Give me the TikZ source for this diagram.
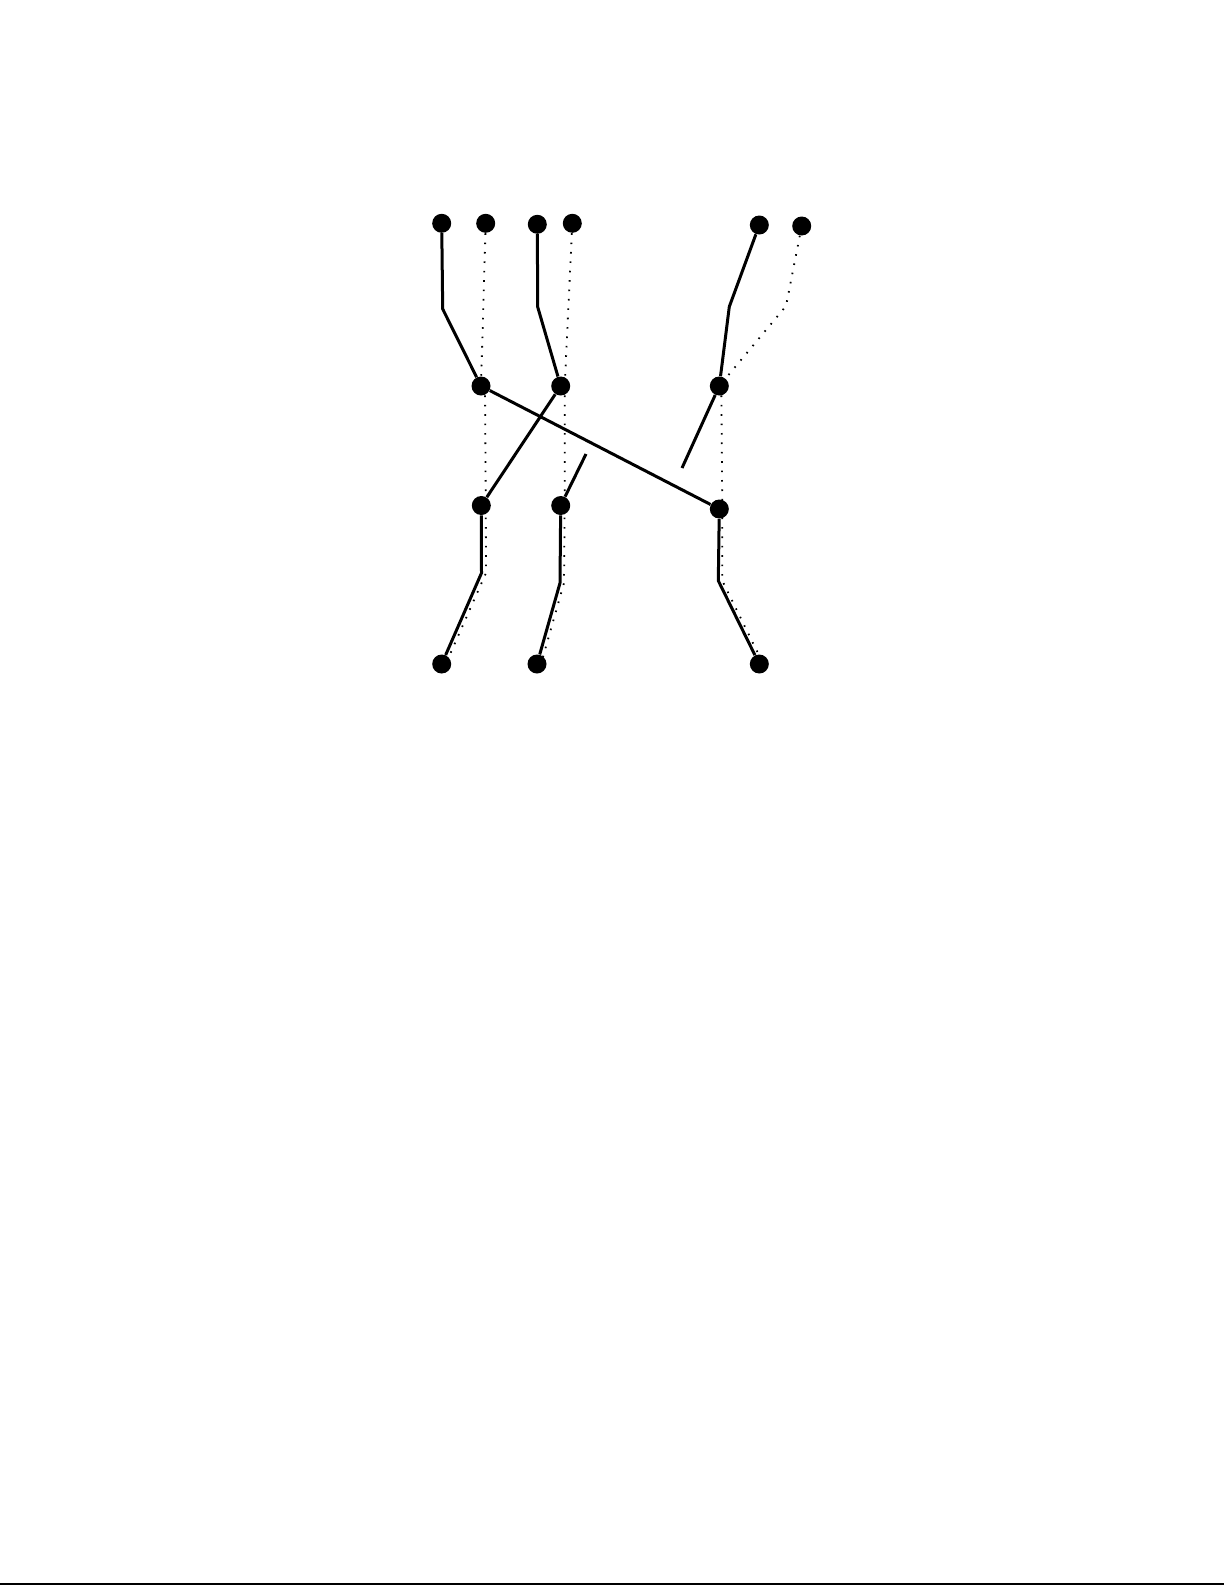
\documentclass[tikz,border=0pt]{standalone}
\usepackage{tikz}
\usetikzlibrary{calc}

\begin{document}
\begin{tikzpicture}[x=0.5pt,y=-0.5pt,
	bead/.style={circle,fill=black,inner sep=0pt,minimum size=9.5pt},
	solidline/.style={line width=1.5pt},
	dotline/.style={line width=0.9pt,dash pattern=on 0.8pt off 3.9pt}]
	\useasboundingbox (0,0) rectangle (1225,1585);
	
	%NODES
	\node[bead] (a1) at (441.7,223.3) {};	%top row
	\node[bead] (a2) at (485.7,223.3) {};
	\node[bead] (a3) at (537.3,224.3) {};
	\node[bead] (a4) at (572.3,223.3) {};
	\node[bead] (a5) at (759.3,225) {};
	\node[bead] (a6) at (801.7,226) {};
	%
	\node[bead] (b1) at (481,386) {};		%second row
	\node[bead] (b2) at (560.7,386) {};
	\node[bead] (b3) at (719.3,386) {};
	%
	\node[bead] (c1) at (481.3,505.5) {};	%third row
	\node[bead] (c2) at (560.7,505.5) {};
	\node[bead] (c3) at (719.3,509) {};
	%
	\node[bead] (d1) at (441.7,664) {};		%bottom row
	\node[bead] (d2) at (537,664) {};
	\node[bead] (d3) at (759.3,664) {};
	
	%BENDS
	\coordinate (k1) at (442.7,309);
	\coordinate (k2) at (537.7,307);
	\coordinate (k3) at (729.3,306.7);
	\coordinate (k4) at (481.5,573);
	\coordinate (k5) at (560,583);
	\coordinate (k6) at (718.3,580.7);
	\coordinate (k7) at (786,306);
	\coordinate (e1) at (682,468);	%broken ends
	\coordinate (e2) at (586,454);
	
	%SOLID LINES
	\draw[solidline] (a1)--(k1)--(b1);
	\draw[solidline] (a3)--(k2)--(b2);
	\draw[solidline] (a5)--(k3)--(b3);
	\draw[solidline] (b1)--(c3);	%long diagonal
	\draw[solidline] (b2)--(c1);
	\draw[solidline] (b3)--(e1);
	\draw[solidline] (e2)--(c2);
	\draw[solidline] (c1)--(k4)--(d1);
	\draw[solidline] (c2)--(k5)--(d2);
	\draw[solidline] (c3)--(k6)--(d3);
	
	%DOTTED LINES
	\draw[dotline] (a2)--(b1);
	\draw[dotline] ($(b1)+(4,0)$)--($(c1)+(4.5,0)$)--($(k4)+(4.5,0)$)--($(d1)+(4,0)$);
	\draw[dotline] (a4)--($(b2)+(4,0)$);
	\draw[dotline] ($(b2)+(4,0)$)--($(c2)+(4,0)$)--($(k5)+(4,0)$)--($(d2)+(4,0)$);
	\draw[dotline] (a6)--(k7)--(b3);
	\draw[dotline] ($(b3)+(2,0)$)--($(c3)+(3,0)$)--($(k6)+(4,0)$)--($(d3)+(4,0)$);
	
	%PAGE EDGE
	\draw[line width=0.8pt] (0,1584)--(1224,1584);
\end{tikzpicture}
\end{document}
